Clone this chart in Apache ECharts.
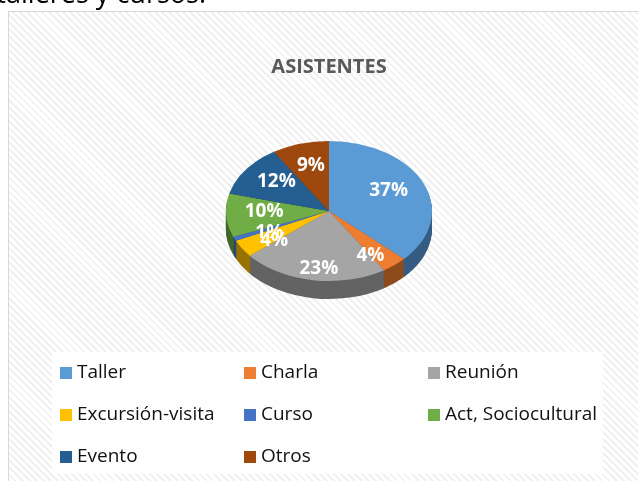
<!DOCTYPE html>
<html><head><meta charset="utf-8">
<script src="https://cdn.jsdelivr.net/npm/echarts@6/dist/echarts.min.js"></script>
<style>
html,body{margin:0;padding:0;width:638px;height:481px;overflow:hidden;background:#fff;}
#frame{position:absolute;left:8px;top:11px;width:700px;height:560px;border:1px solid #d9d9d9;
background:repeating-linear-gradient(45deg,#ffffff 0px,#ffffff 3px,#f0f0f0 3px,#f0f0f0 5px);}
#lbox{position:absolute;left:52px;top:352px;width:551px;height:122px;background:rgba(255,255,255,0.82);}
#pie{position:absolute;left:0;top:0;width:638px;height:481px;transform-origin:329px 211px;transform:scaleY(0.68);}
#top{position:absolute;left:0;top:0;width:638px;height:481px;}
</style></head><body>
<div id="frame"></div>
<div id="lbox"></div>
<div id="pie"></div>
<div id="top"></div>
<script>
// ---- data ----
const categories = ['Taller', 'Charla', 'Reunión', 'Excursión-visita', 'Curso', 'Act, Sociocultural', 'Evento', 'Otros'];
const values = [37, 4, 23, 4, 1, 10, 12, 9];
const chartTitle = 'ASISTENTES';
const pageText = 'talleres y cursos.';

// ---- style ----
const colors = ['#5b9bd5', '#ed7d31', '#a5a5a5', '#ffc000', '#4472c4', '#70ad47', '#255e91', '#9e480e'];
const CX = 329, CY = 211, R = 103, SQ = 0.68, DEPTH = 18;
const FONT = '"Open Sans", Lato, sans-serif';

function darken(hex, f) {
  const n = parseInt(hex.slice(1), 16);
  const r = Math.round(((n >> 16) & 255) * f), g = Math.round(((n >> 8) & 255) * f), b = Math.round((n & 255) * f);
  return 'rgb(' + r + ',' + g + ',' + b + ')';
}

// ---- pie body (squashed into an ellipse by CSS) ----
const pieChart = echarts.init(document.getElementById('pie'), null, {renderer: 'svg'});
const pieSeries = [];
for (let i = DEPTH; i >= 1; i--) {
  pieSeries.push({
    type: 'pie', silent: true, animation: false, radius: R,
    center: [CX, CY + i / SQ],
    label: {show: false}, labelLine: {show: false},
    itemStyle: {borderWidth: 0},
    data: categories.map((c, k) => ({name: c, value: values[k], itemStyle: {color: darken(colors[k], 0.6)}}))
  });
}
pieSeries.push({
  type: 'pie', silent: true, animation: false, radius: R, center: [CX, CY],
  label: {show: false}, labelLine: {show: false},
  itemStyle: {borderWidth: 0},
  data: categories.map((c, k) => ({name: c, value: values[k], itemStyle: {color: colors[k]}}))
});
pieChart.setOption({animation: false, series: pieSeries});

// ---- overlay: title, labels, legend ----
const topChart = echarts.init(document.getElementById('top'));
const cols = [[0, 3, 6], [1, 4, 7], [2, 5]];
const colLeft = [60, 244, 428];
topChart.setOption({
  animation: false,
  graphic: [
    {type: 'text', x: 206, y: -5, style: {text: pageText, font: '27px ' + FONT, fill: '#000', align: 'right', verticalAlign: 'middle'}},
    {type: 'text', x: CX, y: 67, style: {text: chartTitle, font: 'bold 20px ' + FONT, fill: '#595959', align: 'center', verticalAlign: 'middle'}}
  ],
  legend: cols.map((idx, j) => ({
    orient: 'vertical', left: colLeft[j], top: 363, padding: 0,
    itemWidth: 12, itemHeight: 12, itemGap: 22, icon: 'rect', selectedMode: false,
    textStyle: {fontFamily: FONT, fontSize: 19, color: '#111', lineHeight: 20, padding: [0, 0, 0, 0]},
    data: idx.map(k => ({name: categories[k], itemStyle: {color: colors[k], opacity: 1}}))
  })),
  series: [{
    type: 'pie', silent: true, radius: 124, center: [CX, CY - 3], percentPrecision: 0,
    itemStyle: {color: 'rgba(0,0,0,0)', borderWidth: 0},
    label: {show: true, position: 'inside', formatter: '{d}%', color: '#fff', fontFamily: FONT, fontWeight: 'bold', fontSize: 19},
    labelLine: {show: false},
    emphasis: {disabled: true},
    labelLayout: function (p) {
      const r = p.labelRect;
      const cx = r.x + r.width / 2, cy = r.y + r.height / 2;
      const c0 = CY - 3;
      const dy = cy - c0;
      return {x: cx, y: c0 + dy * (dy < 0 ? 0.68 : 0.95)};
    },
    data: categories.map((c, k) => ({name: c, value: values[k], itemStyle: {color: 'rgba(0,0,0,0)'}}))
  }]
});
</script>
</body></html>
